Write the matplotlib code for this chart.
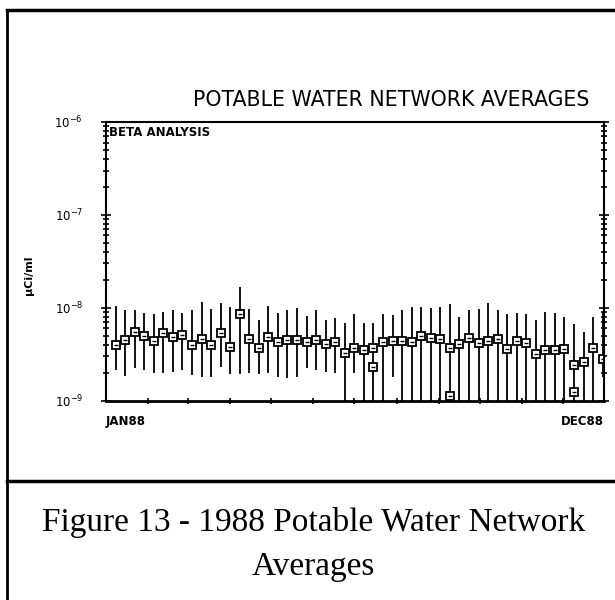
import matplotlib.pyplot as plt
import matplotlib.dates as mdates
import matplotlib.ticker as ticker
import numpy as np
import pandas as pd

# weekly samples, 1988
weeks = pd.date_range('1988-01-08', periods=52, freq='7D')

# weekly network average (uCi/ml)
avg = [4.0e-9, 4.5e-9, 5.45e-9, 4.97e-9, 4.43e-9, 5.31e-9, 4.81e-9, 5.13e-9, 4.0e-9, 4.58e-9,
       4.0e-9, 5.4e-9, 3.81e-9, 8.58e-9, 4.58e-9, 3.66e-9, 4.89e-9, 4.25e-9, 4.5e-9, 4.5e-9,
       4.32e-9, 4.5e-9, 4.05e-9, 4.25e-9, 3.29e-9, 3.72e-9, 3.51e-9, 3.72e-9, 4.32e-9, 4.43e-9,
       4.35e-9, 4.32e-9, 5.0e-9, 4.77e-9, 4.61e-9, 3.72e-9, 4.05e-9, 4.7e-9, 4.21e-9, 4.43e-9,
       4.61e-9, 3.57e-9, 4.39e-9, 4.21e-9, 3.16e-9, 3.51e-9, 3.51e-9, 3.57e-9, 2.42e-9, 2.63e-9,
       3.66e-9, 2.79e-9]

# top of each error bar
upper = [1.04e-8, 9.47e-9, 9.47e-9, 8.85e-9, 8.58e-9, 9.08e-9, 9.47e-9, 8.79e-9, 9.47e-9, 1.16e-8,
         9.63e-9, 1.12e-8, 1.02e-8, 1.69e-8, 9.63e-9, 7.39e-9, 1.04e-8, 8.85e-9, 9.47e-9, 9.88e-9,
         8.1e-9, 9.55e-9, 7.39e-9, 7.71e-9, 6.86e-9, 8.58e-9, 6.86e-9, 6.91e-9, 8.5e-9, 8.37e-9,
         9.35e-9, 1.02e-8, 1.03e-8, 9.88e-9, 1.03e-8, 1.1e-8, 8.02e-9, 9.47e-9, 9.63e-9, 1.12e-8,
         9.47e-9, 8.58e-9, 8.73e-9, 8.5e-9, 7.45e-9, 9.08e-9, 8.73e-9, 8.02e-9, 6.7e-9, 5.53e-9,
         8.02e-9, 9.0e-9]

# bottom of each error bar (below 1e-9 runs off the axis)
lower = [2.14e-9, 1.84e-9, 2.25e-9, 2.14e-9, 1.99e-9, 2.0e-9, 2.05e-9, 2.14e-9, 1.89e-9, 1.8e-9,
         1.82e-9, 2.32e-9, 1.94e-9, 1.94e-9, 1.97e-9, 1.94e-9, 2.0e-9, 1.81e-9, 1.74e-9, 1.79e-9,
         2.23e-9, 2.14e-9, 2.05e-9, 1.97e-9, 8e-10, 1.99e-9, 8e-10, 8e-10, 8e-10, 1.79e-9,
         8e-10, 8e-10, 8e-10, 8e-10, 8e-10, 8e-10, 8e-10, 8e-10, 8e-10, 8e-10,
         8e-10, 8e-10, 8e-10, 8e-10, 8e-10, 8e-10, 8e-10, 8e-10, 8e-10, 8e-10,
         8e-10, 1.8e-9]

# second points on a few weeks
extra_idx = [27, 35, 48]
extra_avg = [2.32e-9, 1.13e-9, 1.23e-9]

avg = np.array(avg)
yerr = [avg - np.array(lower), np.array(upper) - avg]

fig = plt.figure(figsize=(6.15, 6.0), dpi=100)
ax = fig.add_axes([0.1724, 0.3322, 0.8098, 0.4645])

ax.errorbar(weeks, avg, yerr=yerr, fmt='none', ecolor='black', elinewidth=1.3, capsize=0)
ax.plot(weeks, avg, 's', ms=5.5, mfc='white', mec='black', mew=1.3)
ax.plot(weeks, avg, '_', ms=3.5, color='black', mew=1.0)
ax.plot(weeks[extra_idx], extra_avg, 's', ms=5.5, mfc='white', mec='black', mew=1.3)
ax.plot(weeks[extra_idx], extra_avg, '_', ms=3.5, color='black', mew=1.0)

ax.set_yscale('log')
ax.set_ylim(1e-9, 1e-6)
ax.set_xlim(pd.Timestamp('1988-01-01'), pd.Timestamp('1988-12-31'))

ax.set_yticks([1e-9, 1e-8, 1e-7, 1e-6])
ax.set_yticklabels(['$10^{-9}$', '$10^{-8}$', '$10^{-7}$', '$10^{-6}$'], fontsize=8.5)
ax.yaxis.set_minor_locator(ticker.LogLocator(base=10, subs=np.arange(2, 10)))
ax.yaxis.set_minor_formatter(ticker.NullFormatter())
ax.tick_params(axis='y', which='both', direction='inout', right=True, width=1.2, pad=13)
ax.tick_params(axis='y', which='major', length=7)
ax.tick_params(axis='y', which='minor', length=5)

ax.set_xticks([pd.Timestamp('1988-01-01'), pd.Timestamp('1988-12-31')])
ax.set_xticklabels(['JAN88', 'DEC88'], fontsize=8.5, fontweight='bold')
ax.get_xticklabels()[0].set_ha('left')
ax.get_xticklabels()[1].set_ha('right')
ax.xaxis.set_minor_locator(mdates.MonthLocator())
ax.tick_params(axis='x', which='major', length=0, pad=10)
ax.tick_params(axis='x', which='minor', direction='inout', length=4, width=1.2)

for s in ax.spines.values():
    s.set_linewidth(1.5)
ax.spines['bottom'].set_linewidth(2)

ax.set_ylabel('\u03bcCi/ml', fontsize=8, fontweight='bold', labelpad=11)
ax.yaxis.set_label_coords(-0.145, 0.45)
ax.text(0.006, 0.985, 'BETA ANALYSIS', transform=ax.transAxes, fontsize=8.5,
        fontweight='bold', va='top', ha='left')
fig.text(0.959, 0.816, 'POTABLE WATER NETWORK AVERAGES', fontsize=14.8,
         ha='right', va='bottom')

# page frame and caption box
fig.add_artist(plt.Line2D([0.011, 0.011], [0.0, 0.983], color='black', lw=2))
fig.add_artist(plt.Line2D([0.011, 1.0], [0.983, 0.983], color='black', lw=2.5))
fig.add_artist(plt.Line2D([0.011, 1.0], [0.198, 0.198], color='black', lw=2.5))

fig.text(0.51, 0.13, 'Figure 13 - 1988 Potable Water Network', fontsize=24,
         family='Liberation Serif', ha='center', va='center')
fig.text(0.51, 0.055, 'Averages', fontsize=24,
         family='Liberation Serif', ha='center', va='center')

fig.savefig('out.png', dpi=100)
